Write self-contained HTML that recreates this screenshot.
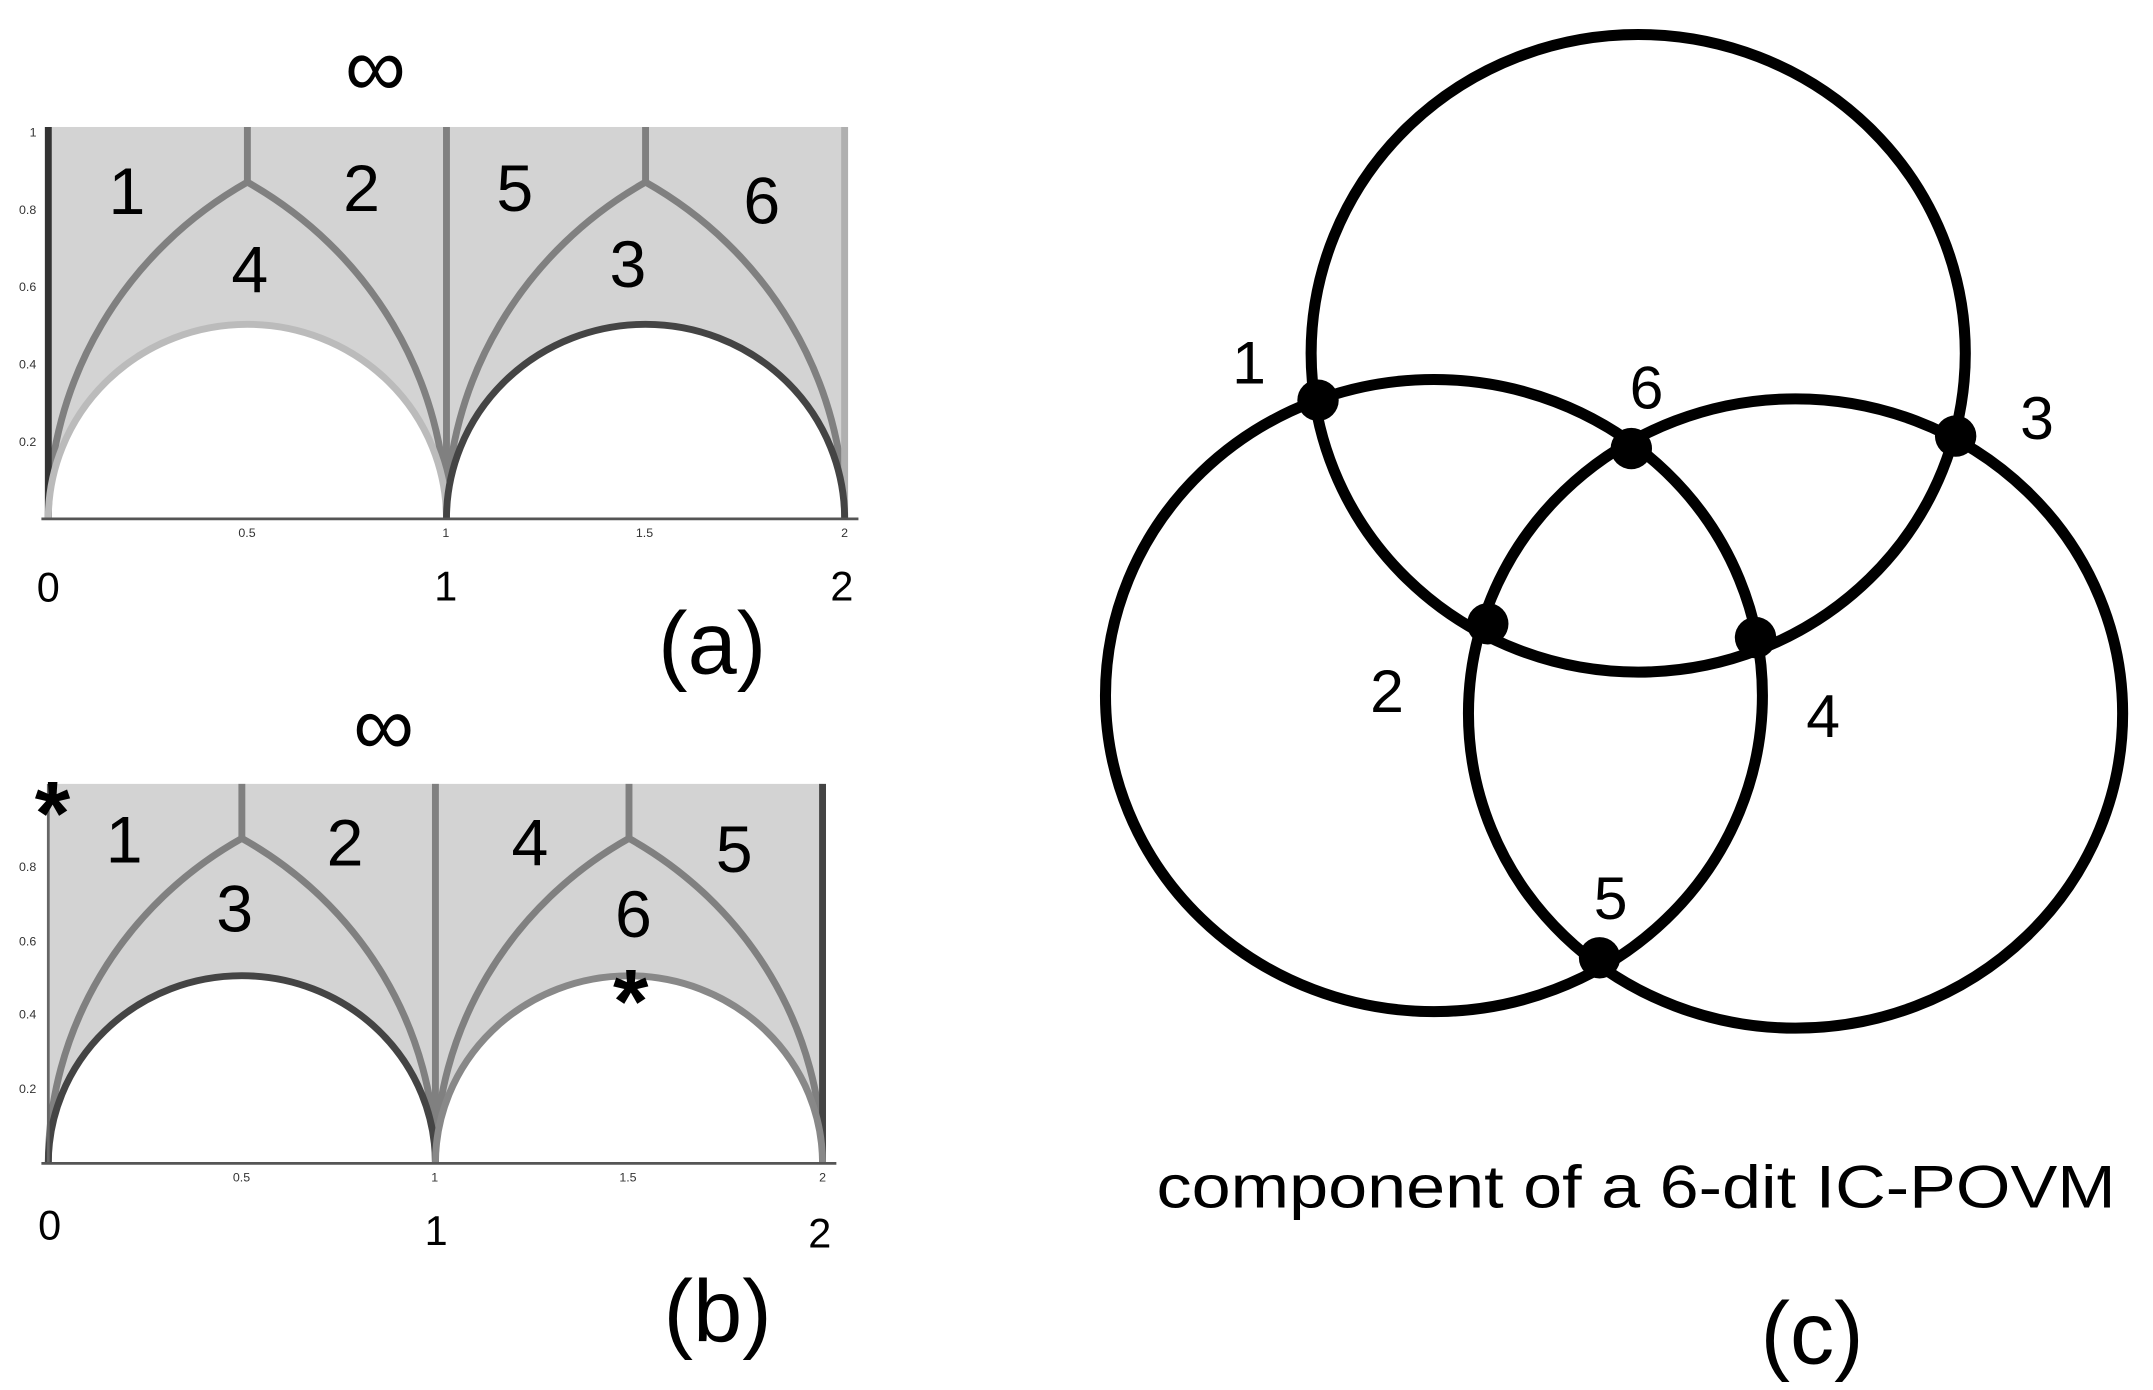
<!DOCTYPE html>
<html><head><meta charset="utf-8"><style>html,body{margin:0;padding:0;background:#fff}svg{display:block}</style></head>
<body>
<svg width="2153" height="1390" viewBox="0 0 1560 1007.2" preserveAspectRatio="none" xmlns="http://www.w3.org/2000/svg" font-family="Liberation Sans, sans-serif">
<!-- Panel a -->
<rect x="35" y="92" width="577" height="284" fill="#d3d3d3"/>
<path d="M35,376 A144.25,141 0 0 1 323.5,376 Z" fill="#fff"/>
<path d="M323.5,376 A144.25,141 0 0 1 612,376 Z" fill="#fff"/>
<g fill="none" stroke-width="5">
<path d="M35,376 A288.5,282 0 0 1 179.25,132 A288.5,282 0 0 1 323.5,376" stroke="#808080"/>
<path d="M323.5,376 A288.5,282 0 0 1 467.75,132 A288.5,282 0 0 1 612,376" stroke="#808080"/>
<line x1="179.25" y1="92" x2="179.25" y2="132" stroke="#808080"/>
<line x1="467.75" y1="92" x2="467.75" y2="132" stroke="#808080"/>
<line x1="323.5" y1="92" x2="323.5" y2="376" stroke="#808080"/>
<line x1="612" y1="92" x2="612" y2="376" stroke="#b0b0b0"/>
<line x1="35" y1="92" x2="35" y2="376" stroke="#333"/>
<path d="M35,376 A144.25,141 0 0 1 323.5,376" stroke="#bbb"/>
<path d="M323.5,376 A144.25,141 0 0 1 612,376" stroke="#444"/>
</g>
<line x1="30" y1="376" x2="622" y2="376" stroke="#555" stroke-width="2"/>
<g font-size="9" fill="#333" text-anchor="middle">
<text x="179" y="389">0.5</text><text x="323" y="389">1</text><text x="467" y="389">1.5</text><text x="612" y="389">2</text>
<text x="24" y="99">1</text><text x="20" y="155">0.8</text><text x="20" y="211">0.6</text><text x="20" y="267">0.4</text><text x="20" y="323">0.2</text>
</g>
<g font-size="48" text-anchor="middle" fill="#000">
<text x="272" y="70" font-size="62">∞</text>
<text x="92" y="155">1</text><text x="262" y="153">2</text><text x="373" y="153">5</text><text x="552" y="162">6</text>
<text x="181" y="212">4</text><text x="455" y="208">3</text>
<text x="35" y="436" font-size="30">0</text><text x="323" y="435" font-size="30">1</text><text x="610" y="435" font-size="30">2</text>
<text x="516" y="488" font-size="64">(a)</text>
</g>
<!-- Panel b -->
<rect x="35" y="568" width="561" height="275" fill="#d3d3d3"/>
<path d="M35,843 A140.25,136 0 0 1 315.5,843 Z" fill="#fff"/>
<path d="M315.5,843 A140.25,136 0 0 1 596,843 Z" fill="#fff"/>
<g fill="none" stroke-width="5">
<path d="M35,843 A280.5,272 0 0 1 175.25,607.5 A280.5,272 0 0 1 315.5,843" stroke="#808080"/>
<path d="M315.5,843 A280.5,272 0 0 1 455.75,607.5 A280.5,272 0 0 1 596,843" stroke="#808080"/>
<line x1="175.25" y1="568" x2="175.25" y2="607.5" stroke="#808080"/>
<line x1="455.75" y1="568" x2="455.75" y2="607.5" stroke="#808080"/>
<line x1="315.5" y1="568" x2="315.5" y2="843" stroke="#808080"/>
<line x1="596" y1="568" x2="596" y2="843" stroke="#444"/>
<path d="M35,843 A140.25,136 0 0 1 315.5,843" stroke="#444"/>
<path d="M315.5,843 A140.25,136 0 0 1 596,843" stroke="#888"/>
</g>
<line x1="35" y1="568" x2="35" y2="843" stroke="#666" stroke-width="2"/>
<line x1="30" y1="843" x2="606" y2="843" stroke="#555" stroke-width="2"/>
<g font-size="9" fill="#333" text-anchor="middle">
<text x="175" y="856">0.5</text><text x="315" y="856">1</text><text x="455" y="856">1.5</text><text x="596" y="856">2</text>
<text x="20" y="631">0.8</text><text x="20" y="685">0.6</text><text x="20" y="738">0.4</text><text x="20" y="792">0.2</text>
</g>
<g font-size="48" text-anchor="middle" fill="#000">
<text x="278" y="547" font-size="62">∞</text>
<text x="38" y="612" font-size="66" font-weight="bold">*</text>
<text x="90" y="625">1</text><text x="250" y="627">2</text><text x="384" y="627">4</text><text x="532" y="632">5</text>
<text x="170" y="675">3</text><text x="459" y="679">6</text>
<text x="457" y="748" font-size="66" font-weight="bold">*</text>
<text x="36" y="898" font-size="30">0</text><text x="316" y="902" font-size="30">1</text><text x="594" y="904" font-size="30">2</text>
<text x="520" y="972" font-size="64">(b)</text>
</g>
<!-- Panel c -->
<g fill="none" stroke="#000" stroke-width="8">
<ellipse cx="1187" cy="256" rx="237" ry="231"/>
<ellipse cx="1039" cy="504" rx="238" ry="229"/>
<ellipse cx="1301" cy="517" rx="237" ry="228"/>
</g>
<g fill="#000">
<circle cx="955" cy="290" r="15"/><circle cx="1182" cy="325" r="15"/><circle cx="1417" cy="316" r="15"/>
<circle cx="1078" cy="452" r="15"/><circle cx="1272" cy="462" r="15"/><circle cx="1159" cy="694" r="15"/>
</g>
<g font-size="44" text-anchor="middle" fill="#000">
<text x="905" y="278">1</text><text x="1193" y="296">6</text><text x="1476" y="318">3</text>
<text x="1005" y="516">2</text><text x="1321" y="534">4</text><text x="1167" y="666">5</text>
<text x="838" y="875" font-size="44" text-anchor="start" textLength="695" lengthAdjust="spacingAndGlyphs">component of a 6-dit IC-POVM</text>
<text x="1313" y="988" font-size="64">(c)</text>
</g>
</svg>
</body></html>
